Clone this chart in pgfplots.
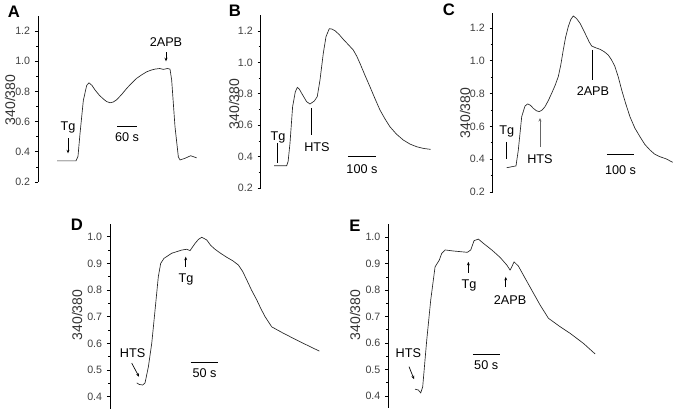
\documentclass[border=0pt]{standalone}
\usepackage{fontspec}
\setmainfont{Liberation Sans}
\usepackage{pgfplots}
\pgfplotsset{compat=1.18}
\usetikzlibrary{arrows.meta}

\pgfplotsset{
  trace/.style={
    scale only axis, anchor=south west,
    axis y line*=left, axis x line=none,
    xmin=0, clip=false,
    y axis line style={line width=0.75pt, black},
    tick align=outside,
    major tick length=2.4pt, minor tick length=1.5pt,
    every tick/.append style={black, line width=0.6pt},
    minor y tick num=1,
    yticklabel style={font=\fontsize{8}{9}\selectfont, color=black!75,
      /pgf/number format/.cd, fixed, fixed zerofill, precision=1,
      assume math mode=true},
  },
}
\tikzset{
  tr/.style={black!85, line width=0.5pt, mark=none},
  ann/.style={font=\fontsize{9.5}{11}\selectfont, inner sep=0pt},
  mk/.style={line width=0.6pt},
  mka/.style={line width=0.5pt, -{Stealth[length=2.6pt,width=2.2pt]}},
  bar/.style={line width=0.65pt},
  plab/.style={font=\fontsize{12.5}{14}\selectfont\bfseries, inner sep=0pt},
  ylab/.style={font=\fontsize{10.5}{12}\selectfont, rotate=90, inner sep=0pt, color=black!80},
}

\begin{document}
\begin{tikzpicture}[x=0.75pt, y=0.75pt]
\path[use as bounding box] (0,0) rectangle (677,413);

% A
\begin{axis}[trace, at={(28.5pt,173.25pt)}, width=127.5pt, height=124.5pt,
    xmax=510, ymin=0.2, ymax=1.3, ytick={0.2,0.4,0.6,0.8,1.0,1.2}]
  \addplot[tr] coordinates {(57,0.34) (114,0.34) (120,0.37) (126,0.52) (136,0.74)
    (146,0.84) (153,0.857) (162,0.84) (171,0.81) (184,0.775) (196,0.75) (206,0.733)
    (216,0.725) (226,0.73) (236,0.745) (251,0.78) (266,0.82) (281,0.855) (296,0.887)
    (311,0.91) (326,0.93) (340,0.942) (351,0.948) (365,0.952) (376,0.946)
    (388,0.952) (396,0.948) (401,0.876) (411,0.566) (421,0.367) (426,0.346)
    (441,0.357) (458,0.374) (476,0.36)};
  \node[ann] at (axis cs:90,0.564) {Tg};
  \draw[mka] (axis cs:90,0.49) -- (axis cs:90,0.39);
  \node[ann] at (axis cs:384,1.127) {2APB};
  \draw[mka] (axis cs:384,1.06) -- (axis cs:384,1.0);
  \draw[bar] (axis cs:237,0.571) -- (axis cs:297,0.571);
  \node[ann] at (axis cs:267,0.498) {60 s};
\end{axis}

% B
\begin{axis}[trace, at={(195.525pt,168.75pt)}, width=135pt, height=129.5pt,
    xmax=643, ymin=0.2, ymax=1.3, ytick={0.2,0.4,0.6,0.8,1.0,1.2},
    y axis line style={line width=1pt}]
  \addplot[tr] coordinates {(47.5,0.342) (92.8,0.342) (98,0.37) (104.6,0.485) (114,0.718)
    (123.6,0.813) (130.8,0.841) (138,0.83) (146.4,0.803) (164,0.75) (176,0.735)
    (191.5,0.754) (202,0.782) (211.8,0.888) (223.6,1.058) (233.2,1.164)
    (245,1.215) (255,1.212) (265.3,1.202) (280,1.178) (295,1.147) (312,1.115)
    (330.7,1.079) (343,1.04) (354.6,0.994) (372,0.92)
    (390.3,0.845) (408,0.77) (426,0.697) (444,0.64) (461.7,0.59) (485,0.543)
    (509,0.506) (533,0.48) (557,0.463) (582,0.452) (607,0.446)};
  \draw[mk] (axis cs:58.2,0.487) -- (axis cs:58.2,0.359);
  \node[ann] at (axis cs:61.8,0.525) {Tg};
  \draw[mk] (axis cs:179.6,0.71) -- (axis cs:179.6,0.538);
  \node[ann] at (axis cs:201,0.461) {HTS};
  \draw[bar] (axis cs:311.8,0.404) -- (axis cs:411.8,0.404);
  \node[ann] at (axis cs:361.8,0.321) {100 s};
\end{axis}

% C
\begin{axis}[trace, at={(369.525pt,165.75pt)}, width=138pt, height=134.1pt,
    xmax=681, ymin=0.2, ymax=1.29, ytick={0.2,0.4,0.6,0.8,1.0,1.2},
    y axis line style={line width=1pt}]
  \addplot[tr] coordinates {(51.8,0.348) (86.2,0.359) (94.8,0.456) (107.3,0.659)
    (119.5,0.724) (129.5,0.737) (140,0.728) (150.2,0.71) (162,0.695) (172.4,0.69)
    (183,0.7) (193.5,0.72) (206,0.758)
    (218.3,0.802) (231,0.85) (242.7,0.903) (252,0.975) (261.2,1.066) (270,1.145)
    (279.7,1.208) (289,1.252) (298.2,1.273) (310,1.258)
    (323,1.229) (335,1.19) (347.8,1.147) (357,1.115) (366.3,1.09) (380,1.08)
    (397,1.07) (412,1.056) (427.7,1.035) (440,1.005)
    (452.5,0.964) (465,0.9) (477.3,0.822) (492,0.74) (508,0.659) (526,0.59)
    (545,0.537) (563,0.49) (582,0.456) (600,0.43)
    (619,0.415) (642,0.402) (666,0.381)};
  \draw[mk] (axis cs:49.2,0.505) -- (axis cs:49.2,0.401);
  \node[ann] at (axis cs:51.8,0.572) {Tg};
  \draw[mka, black!60] (axis cs:175,0.474) -- (axis cs:175,0.651);
  \node[ann] at (axis cs:175,0.401) {HTS};
  \draw[mk] (axis cs:367.4,1.066) -- (axis cs:367.4,0.883);
  \node[ann] at (axis cs:371,0.816) {2APB};
  \draw[bar] (axis cs:423,0.426) -- (axis cs:523,0.426);
  \node[ann] at (axis cs:473,0.334) {100 s};
\end{axis}

% D
\begin{axis}[trace, at={(82.5pt,3pt)}, width=165pt, height=138.6pt,
    xmax=398, ymin=0.354, ymax=1.047, ytick={0.4,0.5,0.6,0.7,0.8,0.9,1.0}]
  \addplot[tr] coordinates {(48.3,0.452) (53,0.446) (59.2,0.444) (63.4,0.452)
    (69.4,0.512) (75.5,0.6) (81.5,0.725) (87.4,0.85) (91.7,0.9) (97.7,0.919)
    (111.6,0.938) (129.7,0.95) (138.8,0.953) (144.8,0.948) (153.9,0.975)
    (160,0.99) (166,0.998) (175,0.988) (182,0.968) (190,0.953) (200,0.938)
    (211.2,0.923) (222,0.91) (232.2,0.894) (240,0.87)
    (247.4,0.838) (256,0.8) (265.5,0.763) (273,0.73) (280.6,0.7) (292.6,0.662)
    (313.7,0.638) (344,0.606) (378.8,0.571)};
  \draw[mka] (axis cs:137,0.887) -- (axis cs:137,0.925);
  \node[ann] at (axis cs:137.6,0.838) {Tg};
  \node[ann] at (axis cs:41,0.565) {HTS};
  \draw[mka] (axis cs:39.3,0.526) -- (axis cs:52.5,0.475);
  \draw[bar] (axis cs:146,0.529) -- (axis cs:196,0.529);
  \node[ann] at (axis cs:171,0.489) {50 s};
\end{axis}

% E
\begin{axis}[trace, at={(291.225pt,3.75pt)}, width=166.5pt, height=138pt,
    xmax=406, ymin=0.355, ymax=1.05, ytick={0.4,0.5,0.6,0.7,0.8,0.9,1.0}]
  \addplot[tr] coordinates {(48.9,0.426) (54.9,0.423) (59.3,0.412) (62.9,0.435)
    (70.3,0.612) (77.6,0.763) (85.5,0.888) (93.3,0.914) (97.7,0.939)
    (103.8,0.952) (119,0.948) (144.6,0.943) (150.8,0.952) (156.8,0.987)
    (164.7,0.993) (173.9,0.977) (189.2,0.952) (204.4,0.924) (216.7,0.895)
    (222.7,0.876) (225.8,0.888) (230,0.907) (237.9,0.891) (247,0.857)
    (262.4,0.8) (277.6,0.744) (292.8,0.694) (314.2,0.662) (332.5,0.637)
    (356.9,0.599) (378.3,0.559)};
  \draw[mka] (axis cs:146.4,0.866) -- (axis cs:146.4,0.907);
  \node[ann] at (axis cs:147.7,0.816) {Tg};
  \draw[mka] (axis cs:214.8,0.812) -- (axis cs:214.8,0.85);
  \node[ann] at (axis cs:222.7,0.763) {2APB};
  \node[ann] at (axis cs:36.6,0.562) {HTS};
  \draw[mka] (axis cs:37.9,0.511) -- (axis cs:47,0.464);
  \draw[bar] (axis cs:154.5,0.559) -- (axis cs:204.5,0.559);
  \node[ann] at (axis cs:179,0.515) {50 s};
\end{axis}

% panel letters and axis titles
\node[plab] at (14,401) {A};
\node[plab] at (235,402) {B};
\node[plab] at (449,403) {C};
\node[plab] at (77,188) {D};
\node[plab] at (355,187) {E};
\node[ylab] at (10,313) {340/380};
\node[ylab] at (234,309) {340/380};
\node[ylab] at (465,300) {340/380};
\node[ylab] at (77,98) {340/380};
\node[ylab] at (355,98) {340/380};
\end{tikzpicture}
\end{document}
